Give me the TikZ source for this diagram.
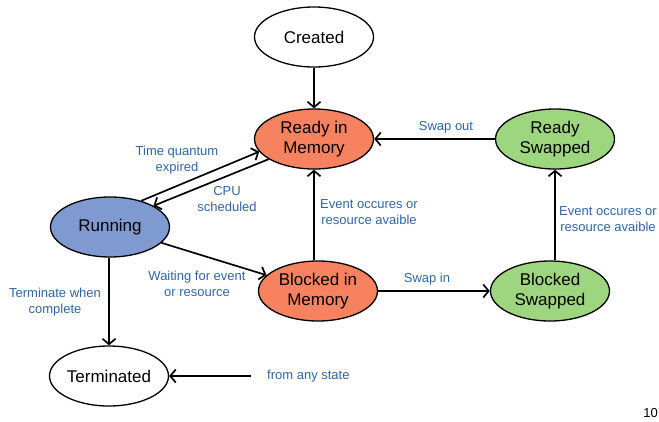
\documentclass[tikz,border=0pt]{standalone}
\usepackage{fontspec}
\setmainfont{Liberation Sans}
\usepackage{tikz}
\usetikzlibrary{shapes.geometric,arrows.meta,positioning,calc}
\usepackage{xcolor}
\definecolor{memred}{HTML}{F7825F}
\definecolor{swpgreen}{HTML}{9ED57F}
\definecolor{runblue}{HTML}{7F9AD0}
\definecolor{lblblue}{HTML}{2F65A8}

\tikzset{
  state/.style={ellipse, draw, line width=1.3pt, minimum width=119pt, minimum height=60pt,
    inner sep=0pt, align=center, font=\fontsize{17}{20}\selectfont},
  lbl/.style={text=lblblue, align=center, font=\fontsize{13}{16}\selectfont},
  arr/.style={-{Straight Barb[length=5.5pt,width=13pt]}, line width=1.7pt}
}

\begin{document}
\begin{tikzpicture}[x=1pt, y=-1pt]
    \useasboundingbox (0,0) rectangle (659,421);

    \node[state] (created) at (314, 37) {Created};
    \node[state, fill=memred] (rdymem) at (314, 139) {Ready in\\Memory};
    \node[state, fill=swpgreen] (rdyswp) at (555, 139) {Ready\\Swapped};
    \node[state, fill=runblue] (run) at (110, 227) {Running};
    \node[state, fill=memred] (blkmem) at (318, 291) {Blocked in\\Memory};
    \node[state, fill=swpgreen] (blkswp) at (550, 291) {Blocked\\Swapped};
    \node[state] (term) at (109, 376) {Terminated};

    % Transitions
    \draw[arr] (created) -- (rdymem);
    \draw[arr] (rdyswp) -- (rdymem);
    \draw[arr] (run.40) -- (rdymem.193);
    \draw[arr] (rdymem.204) -- (run.26);
    \draw[arr] (blkmem.north -| rdymem) -- (rdymem.south);
    \draw[arr] (run) -- (blkmem);
    \draw[arr] (blkmem) -- (blkswp);
    \draw[arr] (blkswp.north -| rdyswp) -- (rdyswp.south);
    \draw[arr] (run.south -| term) -- (term.north);

    \coordinate (anyin) at (251, 376);
    \draw[arr] (anyin) -- (term);

    % Labels
    \node[lbl] (lswout) at (446, 127) {Swap out};
    \node[lbl] (ltime) at (177, 160) {Time quantum\\expired};
    \node[lbl] (lcpu) at (227, 199) {CPU\\scheduled};
    \node[lbl] (levmem) at (369, 212) {Event occures or\\resource avaible};
    \node[lbl] (levswp) at (608, 219) {Event occures or\\resource avaible};
    \node[lbl] (lwait) at (197, 284) {Waiting for event\\or resource};
    \node[lbl] (lswin) at (427, 279) {Swap in};
    \node[lbl] (lterm) at (55, 302) {Terminate when\\complete};
    \node[lbl, anchor=west, inner sep=0pt] (lany) at (267, 376) {from any state};

    \node[anchor=east, inner sep=0pt, font=\fontsize{13}{15}\selectfont] (pgno) at (658, 413) {10};
\end{tikzpicture}
\end{document}
